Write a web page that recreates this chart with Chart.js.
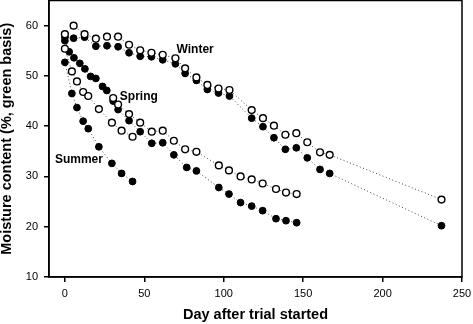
<!DOCTYPE html>
<html>
<head>
<meta charset="utf-8">
<script src="https://cdn.jsdelivr.net/npm/chart.js@4"></script>
<style>
  body { margin: 0; background: #fff; }
  canvas { display: block; }
</style>
</head>
<body>
<canvas id="c" width="473" height="324"></canvas>
<script>
// Winter trial: same sampling days for both series
const winterDays = [0, 5.5, 12.4, 19.5, 26.5, 33.5, 40.4, 47.4, 54.5, 61.6, 69.6, 75.7, 82.8, 89.7, 96.7, 103.6, 117.6, 124.7, 131.6, 138.8, 145.7, 152.6, 160.6, 166.7, 237.1];
const winterOpen   = [58.3, 60.0, 58.3, 57.4, 57.8, 57.8, 56.2, 55.1, 54.6, 54.2, 53.5, 51.5, 49.7, 48.2, 47.5, 47.2, 43.2, 41.6, 40.1, 38.3, 38.6, 36.8, 34.8, 34.3, 25.4];
const winterFilled = [57.7, 57.5, 57.7, 55.9, 56.0, 55.8, 54.6, 53.9, 53.8, 53.2, 52.4, 50.5, 49.1, 47.3, 46.6, 46.0, 41.6, 39.9, 37.7, 35.4, 35.7, 33.7, 31.4, 30.6, 20.2];

// Spring trial
const springDays = [0, 2.7, 5.7, 9.4, 12.6, 16.2, 19.5, 23.7, 26.4, 30.4, 33.5, 40.4, 47.4, 54.7, 61.6, 68.6, 76.7, 82.8, 96.9, 103.3, 110.6, 117.6, 124.5, 132.9, 139.2, 145.9];
const springFilled = [57.0, 54.8, 53.6, 52.5, 51.4, 49.9, 49.5, 47.9, 47.1, 45.0, 43.3, 41.1, 38.9, 36.6, 36.7, 34.3, 31.8, 31.1, 27.8, 26.5, 24.8, 24.1, 23.2, 21.6, 21.2, 20.8];
const springOpenDays = [30.4, 33.5, 40.4, 47.4, 54.7, 61.6, 68.6, 75.7, 82.8, 96.9, 103.3, 110.6, 117.6, 124.5, 132.9, 139.2, 145.9];
const springOpen     = [45.6, 44.3, 42.4, 40.7, 38.9, 39.1, 37.1, 35.4, 34.9, 32.2, 31.2, 30.0, 29.4, 28.6, 27.5, 26.8, 26.5];

// Summer trial
const summerDays = [0, 4.4, 7.6, 11.5, 14.7, 21.4, 29.6, 35.7, 42.6];
const summerOpen   = [55.4, 50.9, 48.9, 46.8, 46.0, 43.4, 40.7, 39.1, 37.9];
const summerFilled = [52.7, 46.5, 43.7, 41.0, 39.5, 35.9, 32.6, 30.6, 29.0];

const xTicks = [0, 50, 100, 150, 200, 250];
const yTicks = [10, 20, 30, 40, 50, 60];

// season labels (day, moisture at text centre line)
const seasonNames = ['Winter', 'Spring', 'Summer'];
const labelDay = [70.3, 34.6, -6.3];
const labelMoisture = [55.2, 45.8, 33.4];

const pts = (days, vals) => days.map((d, i) => ({ x: d, y: vals[i] }));

function series(days, vals, open) {
  return {
    data: pts(days, vals),
    showLine: true,
    borderColor: '#444',
    borderWidth: 1,
    borderDash: [1, 2.5],
    pointRadius: 3.4,
    pointBorderWidth: open ? 1.4 : 1,
    pointBorderColor: '#000',
    pointBackgroundColor: open ? '#fff' : '#000'
  };
}

const frame = {
  id: 'frame',
  afterDraw(chart) {
    const { ctx, chartArea: a, scales } = chart;
    ctx.save();
    ctx.strokeStyle = '#000';
    ctx.lineWidth = 1.5;
    ctx.strokeRect(a.left, a.top, a.right - a.left, a.bottom - a.top);
    ctx.font = 'bold 12px Arial';
    ctx.fillStyle = '#000';
    ctx.textBaseline = 'middle';
    seasonNames.forEach((s, i) => {
      ctx.fillText(s, scales.x.getPixelForValue(labelDay[i]), scales.y.getPixelForValue(labelMoisture[i]));
    });
    ctx.restore();
  }
};

new Chart(document.getElementById('c'), {
  type: 'scatter',
  data: {
    datasets: [
      series(winterDays, winterOpen, true),
      series(springOpenDays, springOpen, true),
      series(summerDays, summerOpen, true),
      series(winterDays, winterFilled, false),
      series(springDays, springFilled, false),
      series(summerDays, summerFilled, false)
    ]
  },
  options: {
    responsive: false,
    animation: false,
    layout: { autoPadding: false, padding: { top: 0.5, right: 11, left: 0, bottom: 0 } },
    plugins: { legend: { display: false }, tooltip: { enabled: false } },
    scales: {
      x: {
        type: 'linear',
        min: -10,
        max: 250,
        afterBuildTicks: s => { s.ticks = xTicks.map(v => ({ value: v })); },
        afterFit: s => { s.height = 47; s.paddingLeft = 0; s.paddingRight = 0; },
        border: { color: '#000', width: 1.5 },
        grid: { drawOnChartArea: false, tickLength: 5, color: '#000', lineWidth: 1.5 },
        ticks: { color: '#000', font: { family: 'Arial', size: 11 }, padding: 5, maxRotation: 0 },
        title: {
          display: true,
          text: 'Day after trial started',
          color: '#000',
          font: { family: 'Arial', size: 14.5, weight: 'bold' },
          padding: 0
        }
      },
      y: {
        min: 10,
        max: 65,
        afterBuildTicks: s => { s.ticks = yTicks.map(v => ({ value: v })); },
        afterFit: s => { s.width = 49; s.paddingTop = 0; s.paddingBottom = 0; },
        border: { color: '#000', width: 1.5 },
        grid: { drawOnChartArea: false, tickLength: 5, color: '#000', lineWidth: 1.5 },
        ticks: { color: '#000', font: { family: 'Arial', size: 11 }, padding: 6 },
        title: {
          display: true,
          text: 'Moisture content (%, green basis)',
          color: '#000',
          font: { family: 'Arial', size: 14.5, weight: 'bold', lineHeight: 1 },
          padding: 0
        }
      }
    }
  },
  plugins: [frame]
});
</script>
</body>
</html>
